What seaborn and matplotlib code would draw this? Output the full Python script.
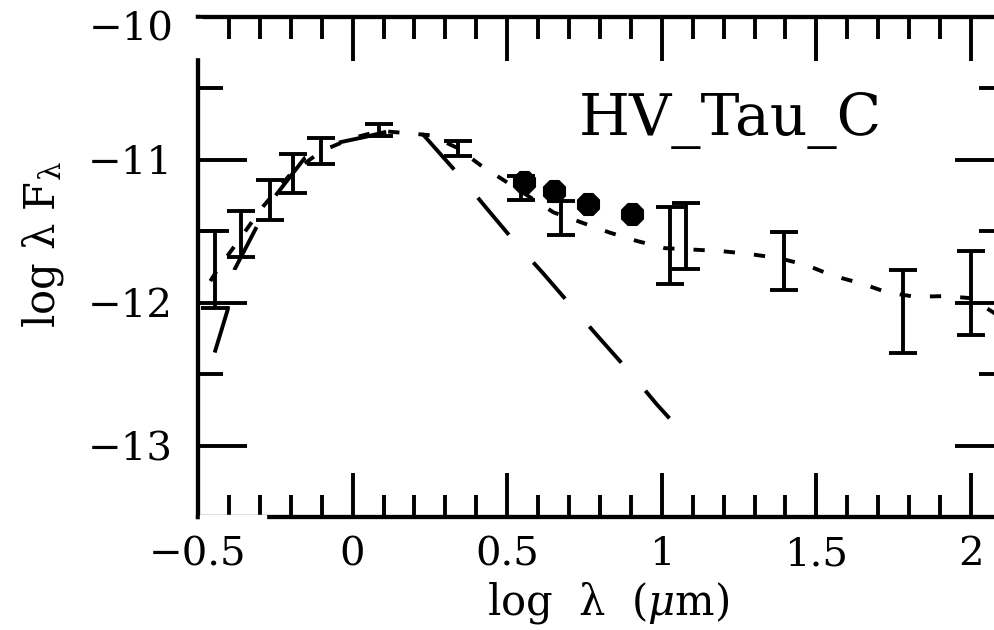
import numpy as np
import pandas as pd
import matplotlib
matplotlib.use("Agg")
import matplotlib.pyplot as plt
from matplotlib.ticker import MultipleLocator, FixedLocator
from matplotlib.patches import Rectangle
import seaborn as sns

# ---------------- data ----------------
# observed photometry with error bars (log lambda [um], log lambda F_lambda)
obs_x = [-0.446, -0.36, -0.268, -0.193, -0.103, 0.087, 0.34, 0.545, 0.675,
         1.027, 1.079, 1.397, 1.78, 2.0]
obs_y = [-11.77, -11.52, -11.28, -11.10, -10.94, -10.795, -10.924, -11.20,
         -11.41, -11.60, -11.535, -11.71, -12.065, -11.935]
obs_err = [0.27, 0.16, 0.14, 0.135, 0.09, 0.04, 0.053, 0.083, 0.118,
           0.27, 0.233, 0.20, 0.29, 0.295]

# filled circles (spectral photometry)
dot_x = [0.554, 0.65, 0.76, 0.903]
dot_y = [-11.16, -11.22, -11.31, -11.38]

# stellar photosphere (long dashed)
phot_x = [-0.446, -0.404, -0.382, -0.31, -0.252, -0.155, -0.042, 0.045, 0.12,
          0.2, 0.23, 0.353, 0.433, 0.534, 0.614, 0.718, 0.799, 0.906, 0.983, 1.025]
phot_y = [-12.35, -12.05, -11.77, -11.47, -11.26, -10.99, -10.88, -10.84, -10.80,
          -10.79, -10.83, -11.13, -11.34, -11.60, -11.79, -12.05, -12.25, -12.51,
          -12.71, -12.81]

# SED model (dotted)
model_x = [-0.46, -0.437, -0.39, -0.33, -0.29, -0.2, -0.1, 0.0, 0.09, 0.25, 0.34,
           0.42, 0.5, 0.65, 0.74, 0.83, 0.92, 1.01, 1.1, 1.19, 1.28, 1.38, 1.47,
           1.55, 1.65, 1.73, 1.82, 1.92, 2.0, 2.08]
model_y = [-11.85, -11.77, -11.63, -11.45, -11.33, -11.10, -10.94, -10.85, -10.80,
           -10.83, -10.92, -11.05, -11.16, -11.37, -11.44, -11.51, -11.57, -11.62,
           -11.63, -11.64, -11.66, -11.69, -11.74, -11.81, -11.87, -11.93, -11.96,
           -11.955, -11.97, -12.08]

xtick_vals = [-0.5, 0, 0.5, 1, 1.5, 2]
xtick_labels = ["\u22120.5", "0", "0.5", "1", "1.5", "2"]
ytick_vals = [-13, -12, -11, -10]
ytick_labels = ["\u221213", "\u221212", "\u221211", "\u221210"]
title_text = "HV_Tau_C"

# ---------------- style ----------------
sns.set_theme(style="ticks")
plt.rcParams["font.family"] = ["DejaVu Serif"]
plt.rcParams["mathtext.fontset"] = "dejavuserif"

W, H = 994, 630
fig = plt.figure(figsize=(W / 100, H / 100), dpi=100)
fig.patch.set_facecolor("white")
ax = fig.add_axes([198 / W, 1 - 517 / H, (1004 - 198) / W, (517 - 16.5) / H])
ax.set_facecolor("white")

LW = 2.8
phot_df = pd.DataFrame({"x": phot_x, "y": phot_y})
model_df = pd.DataFrame({"x": model_x, "y": model_y})
dot_df = pd.DataFrame({"x": dot_x, "y": dot_y})

sns.lineplot(data=model_df, x="x", y="y", ax=ax, color="black", lw=LW,
             linestyle=(0, (2.9, 4.9)), estimator=None, sort=False, zorder=3)
sns.lineplot(data=phot_df, x="x", y="y", ax=ax, color="black", lw=LW,
             linestyle=(0, (12.4, 9.5)), estimator=None, sort=False, zorder=3)
ax.errorbar(obs_x, obs_y, yerr=obs_err, fmt="none", ecolor="black",
            elinewidth=LW, capsize=10, capthick=LW, zorder=4)
sns.scatterplot(data=dot_df, x="x", y="y", ax=ax, color="black", marker="8",
                s=18 ** 2, edgecolor="black", linewidth=0, zorder=5)

ax.set_xlim(-0.5, 2.107)
ax.set_ylim(-13.5, -10)

ax.xaxis.set_major_locator(FixedLocator(xtick_vals))
ax.set_xticklabels(xtick_labels)
ax.xaxis.set_minor_locator(MultipleLocator(0.1))
ax.yaxis.set_major_locator(FixedLocator(ytick_vals))
# the top label (-10) sits slightly lower in the reference; drawn separately
ax.set_yticklabels(ytick_labels[:-1] + [""])
ax.yaxis.set_minor_locator(MultipleLocator(0.5))

ax.tick_params(axis="both", which="both", direction="in", top=True, right=True,
               width=LW, color="black", labelcolor="black")
ax.tick_params(axis="x", which="major", length=32, labelsize=29, pad=14)
ax.tick_params(axis="x", which="minor", length=16)
ax.tick_params(axis="y", which="major", length=35, labelsize=29, pad=18)
ax.tick_params(axis="y", which="minor", length=18)
for sp in ax.spines.values():
    sp.set_linewidth(LW + 0.3)
    sp.set_color("black")

ax.set_xlabel("")
ax.set_ylabel("")

fig.text(174 / W, 1 - 30 / H, ytick_labels[-1], ha="right", va="center",
         fontsize=29, color="black")
fig.text(608 / W, 1 - 614 / H, "log  \u03bb  ($\\mu$m)", ha="center", va="baseline",
         fontsize=30, color="black")
fig.text(43 / W, 1 - 245 / H, "log \u03bb F$_{\\mathregular{\u03bb}}$", ha="center",
         va="center", rotation=90, fontsize=30, color="black")
fig.text(730 / W, 1 - 135 / H, title_text, ha="center", va="baseline",
         fontsize=42, color="black")

# white patches present in the reference image
fig.add_artist(Rectangle((190 / W, 1 - 57 / H), 12 / W, 38 / H,
                         transform=fig.transFigure, color="white", zorder=20))
fig.add_artist(Rectangle((200 / W, 1 - 522 / H), 66 / W, 7.5 / H,
                         transform=fig.transFigure, color="white", zorder=20))

fig.savefig("out.png", dpi=100)
